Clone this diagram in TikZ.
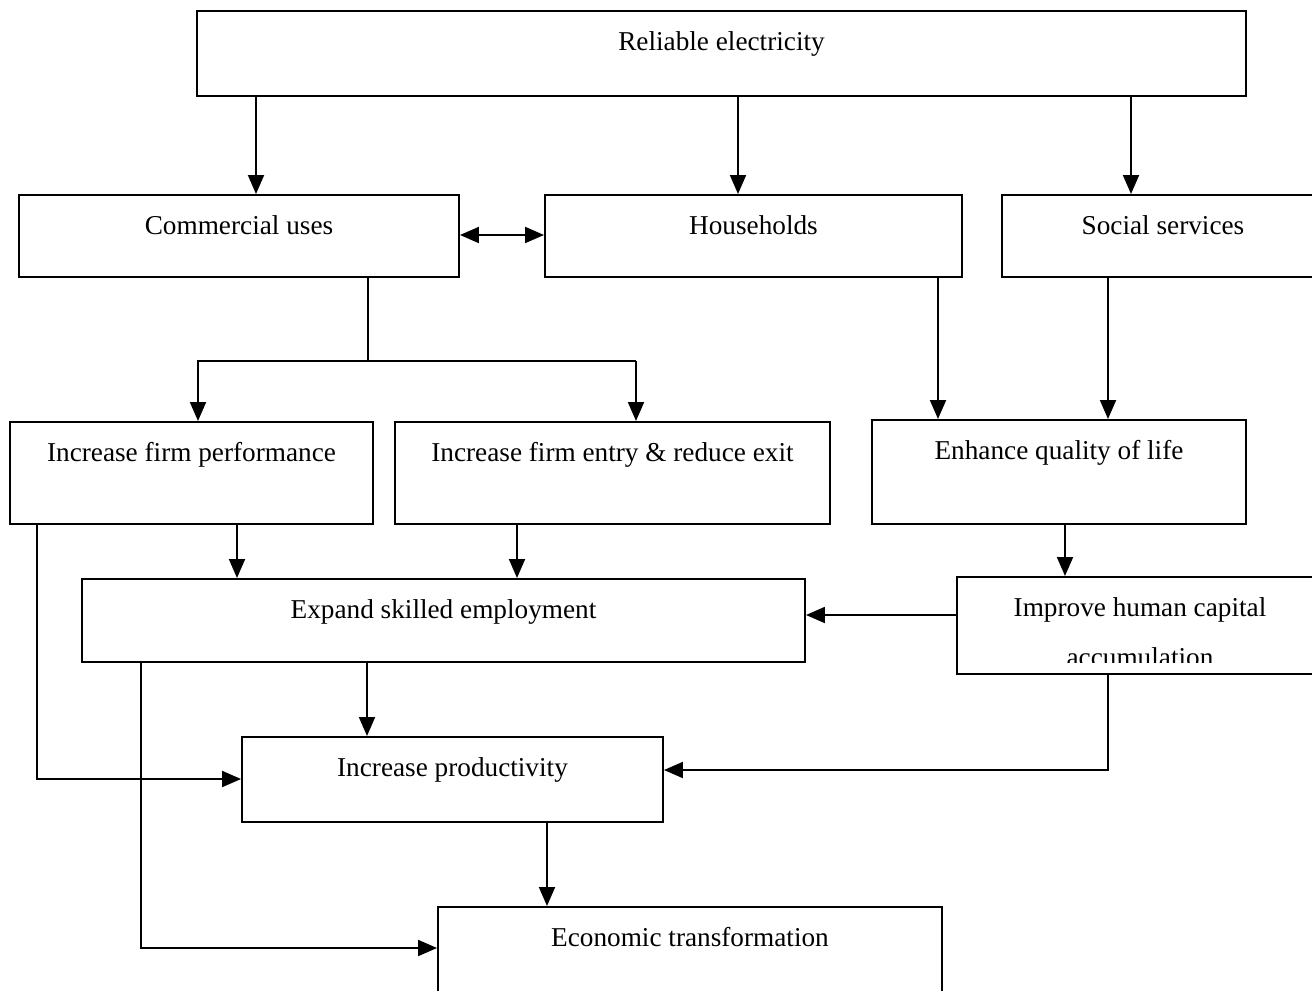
\documentclass[tikz,border=0pt]{standalone}
\usepackage{fontspec}
\setmainfont{Liberation Serif}
\usetikzlibrary{arrows.meta}

\begin{document}
\begin{tikzpicture}[
    blk/.style = {draw, line width=1.1pt, inner sep=0pt, anchor=north, text height=0.8cm,
                  font=\fontsize{15.5}{18}\selectfont},
    arr/.style = {line width=1.1pt, -{Triangle[length=0.38cm, width=0.32cm]}},
    arrtwo/.style = {line width=1.1pt, {Triangle[length=0.38cm, width=0.32cm]}-{Triangle[length=0.38cm, width=0.32cm]}},
    lin/.style = {line width=1.1pt}
]
    \path[use as bounding box, clip] (0,0) rectangle (26.24,-19.8);

    % boxes, placed by top centre
    \node[blk, minimum width=20.98cm, text depth=0.9cm]  (rel)  at (14.43,-0.2)   {Reliable electricity};
    \node[blk, minimum width=8.8cm,   text depth=0.84cm] (com)  at (4.78,-3.88)   {Commercial uses};
    \node[blk, minimum width=8.34cm,  text depth=0.84cm] (hh)   at (15.07,-3.88)  {Households};
    \node[blk, minimum width=6.44cm,  text depth=0.84cm] (soc)  at (23.26,-3.88)  {Social services};
    \node[blk, minimum width=7.26cm,  text depth=1.24cm] (ifp)  at (3.83,-8.42)   {Increase firm performance};
    \node[blk, minimum width=8.7cm,   text depth=1.24cm] (ife)  at (12.25,-8.42)  {Increase firm entry \& reduce exit};
    \node[blk, minimum width=7.48cm,  text depth=1.28cm] (eql)  at (21.18,-8.38)  {Enhance quality of life};
    \node[blk, minimum width=14.46cm, text depth=0.86cm] (ese)  at (8.87,-11.56)  {Expand skilled employment};
    \node[blk, minimum width=7.32cm,  text depth=1.14cm] (ihc)  at (22.8,-11.52)  {Improve human capital};
    \node[blk, minimum width=8.42cm,  text depth=0.9cm]  (prod) at (9.05,-14.72)  {Increase productivity};
    \node[blk, minimum width=10.08cm, text depth=1.1cm]  (eco)  at (13.8,-18.12)  {Economic transformation};

    % second line of the human capital box, cut off by its frame
    \begin{scope}
        \clip (ihc.north west) rectangle (ihc.east |- 0,-13.24);
        \node[font=\fontsize{15.5}{18}\selectfont, anchor=base, inner sep=0pt] (ihcb) at (22.8,-13.32) {accumulation};
    \end{scope}

    % x and y positions of the connectors
    \coordinate (xcom)  at (5.12,0);
    \coordinate (xhh)   at (14.76,0);
    \coordinate (xsoc)  at (22.62,0);
    \coordinate (xstem) at (7.36,0);
    \coordinate (ysplit) at (0,-7.22);
    \coordinate (xifp)  at (3.96,0);
    \coordinate (xife)  at (12.72,0);
    \coordinate (xhhq)  at (18.76,0);
    \coordinate (xsocq) at (22.16,0);
    \coordinate (xfp)   at (4.74,0);
    \coordinate (xfe)   at (10.34,0);
    \coordinate (xql)   at (21.3,0);
    \coordinate (xes)   at (7.34,0);
    \coordinate (xleft) at (0.74,-15.58);
    \coordinate (xhc)   at (22.16,-15.4);
    \coordinate (xpr)   at (10.94,0);
    \coordinate (xese)  at (2.82,-18.96);

    \draw[arr] (rel.south -| xcom) -- (com.north -| xcom);
    \draw[arr] (rel.south -| xhh) -- (hh.north -| xhh);
    \draw[arr] (rel.south -| xsoc) -- (soc.north -| xsoc);
    \draw[arrtwo] (com.east |- 0,-4.7) -- (hh.west |- 0,-4.7);

    \draw[lin] (com.south -| xstem) -- (ysplit -| xstem);
    \draw[arr] (ysplit -| xife) -- (ysplit -| xifp) -- (ifp.north -| xifp);
    \draw[arr] (ysplit -| xife) -- (ife.north -| xife);

    \draw[arr] (hh.south -| xhhq) -- (eql.north -| xhhq);
    \draw[arr] (soc.south -| xsocq) -- (eql.north -| xsocq);
    \draw[arr] (ifp.south -| xfp) -- (ese.north -| xfp);
    \draw[arr] (ife.south -| xfe) -- (ese.north -| xfe);
    \draw[arr] (eql.south -| xql) -- (ihc.north -| xql);
    \draw[arr] (ihc.west |- 0,-12.3) -- (ese.east |- 0,-12.3);
    \draw[arr] (ese.south -| xes) -- (prod.north -| xes);

    \draw[arr] (ifp.south -| xleft) -- (xleft) -- (prod.west |- xleft);
    \draw[arr] (ihc.south -| xhc) -- (xhc) -- (prod.east |- xhc);
    \draw[arr] (prod.south -| xpr) -- (eco.north -| xpr);
    \draw[arr] (ese.south -| xese) -- (xese) -- (eco.west |- xese);
\end{tikzpicture}
\end{document}
